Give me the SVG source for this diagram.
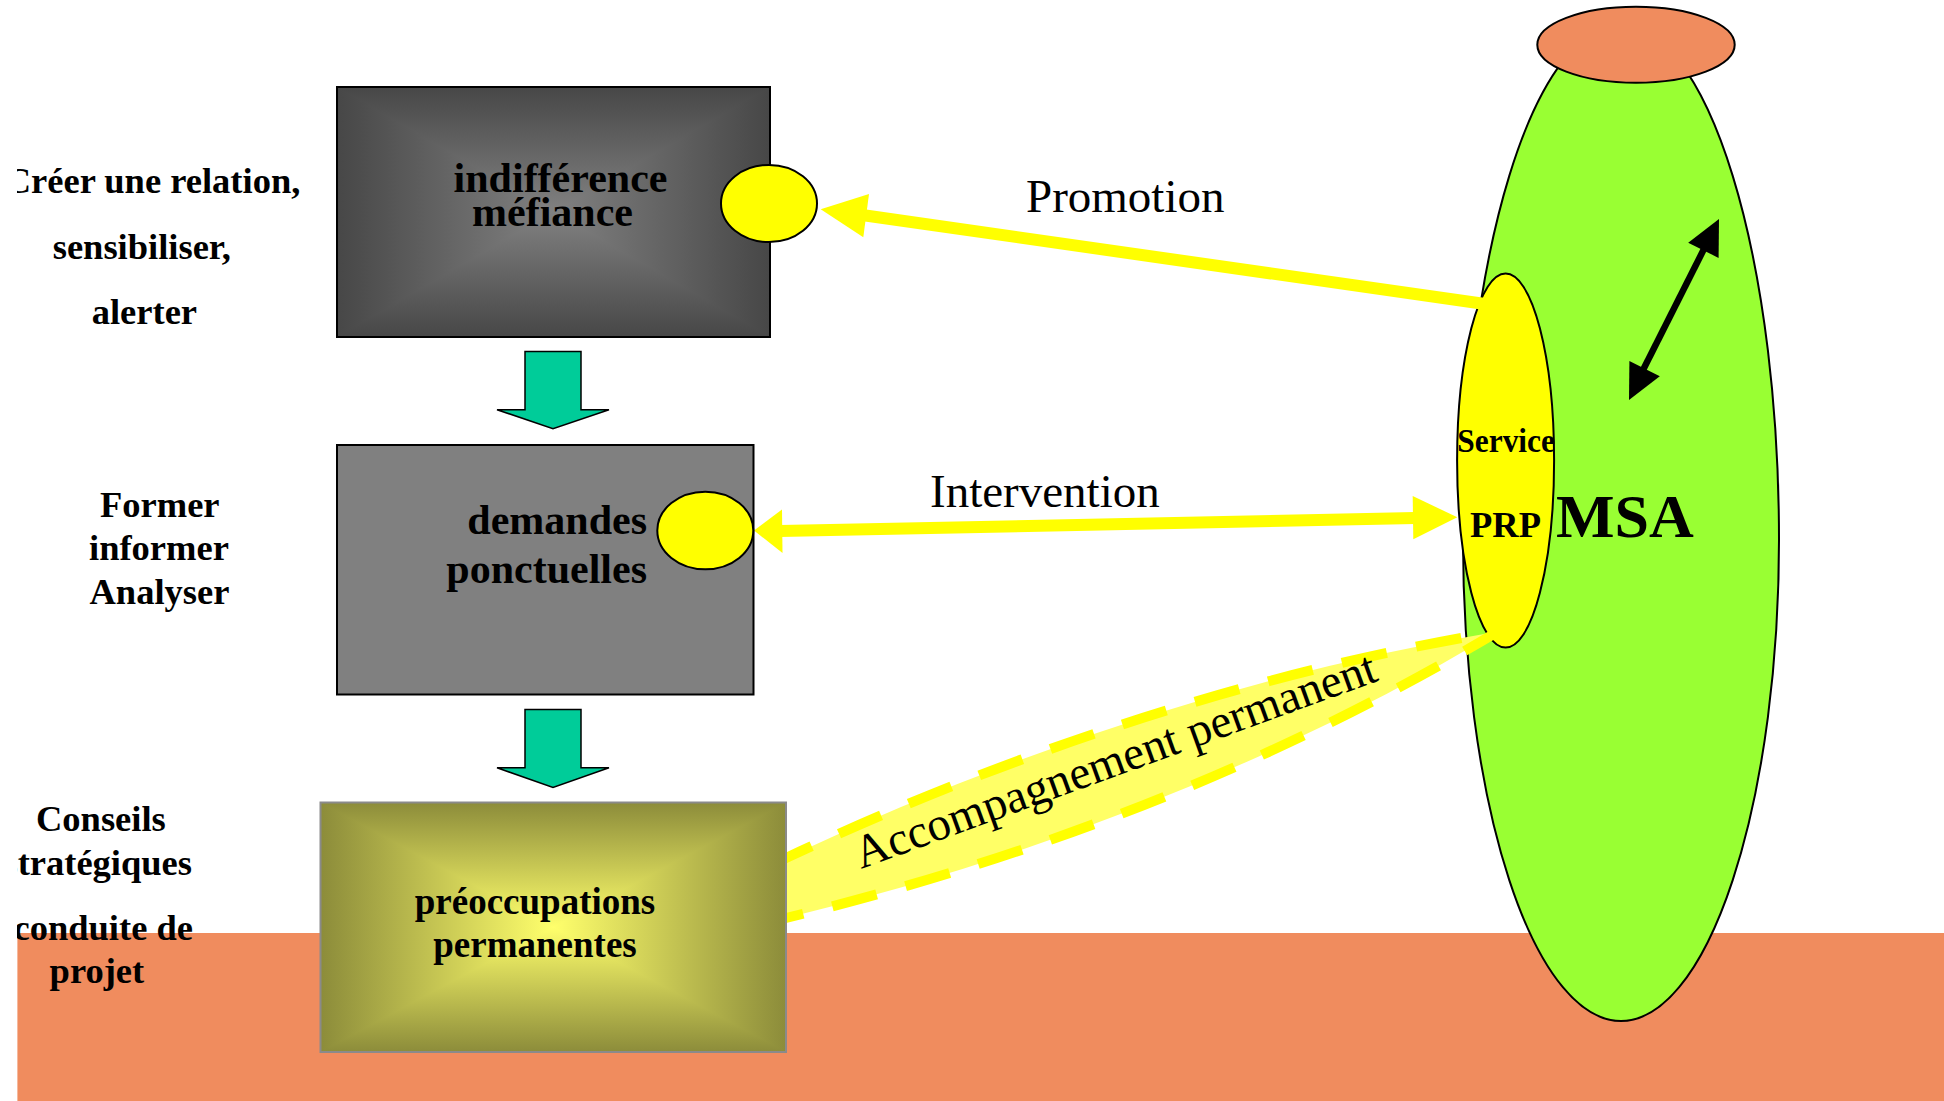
<svg xmlns="http://www.w3.org/2000/svg" width="1944" height="1101" viewBox="0 0 1944 1101">
<defs>
<style>
.lbl{font-family:"Liberation Serif","Times New Roman",serif;font-weight:bold;font-size:36.5px;fill:#000}
.box{font-family:"Liberation Serif","Times New Roman",serif;font-weight:bold;fill:#000}
.conn{font-family:"Liberation Serif","Times New Roman",serif;font-size:47px;fill:#000}
.down{fill:#00CC99;stroke:#000;stroke-width:1.5;stroke-linejoin:miter}
.dot{fill:#FFFF00;stroke:#000;stroke-width:2}
.yl{stroke:#FFFF00;stroke-width:12;fill:none}
.yh{fill:#FFFF00}
.tri{shape-rendering:crispEdges}
</style>
<clipPath id="page"><rect x="17" y="0" width="1927" height="1101"/></clipPath>
<linearGradient id="g1t" gradientUnits="userSpaceOnUse" x1="0" y1="87" x2="0" y2="212"><stop offset="0" stop-color="#474747"/><stop offset="1" stop-color="#818181"/></linearGradient>
<linearGradient id="g1b" gradientUnits="userSpaceOnUse" x1="0" y1="337" x2="0" y2="212"><stop offset="0" stop-color="#474747"/><stop offset="1" stop-color="#818181"/></linearGradient>
<linearGradient id="g1l" gradientUnits="userSpaceOnUse" x1="337" y1="0" x2="553.5" y2="0"><stop offset="0" stop-color="#474747"/><stop offset="1" stop-color="#818181"/></linearGradient>
<linearGradient id="g1r" gradientUnits="userSpaceOnUse" x1="770" y1="0" x2="553.5" y2="0"><stop offset="0" stop-color="#474747"/><stop offset="1" stop-color="#818181"/></linearGradient>
<linearGradient id="g3t" gradientUnits="userSpaceOnUse" x1="0" y1="802.5" x2="0" y2="927.25"><stop offset="0" stop-color="#8C8C3A"/><stop offset="1" stop-color="#FFFF6C"/></linearGradient>
<linearGradient id="g3b" gradientUnits="userSpaceOnUse" x1="0" y1="1052" x2="0" y2="927.25"><stop offset="0" stop-color="#8C8C3A"/><stop offset="1" stop-color="#FFFF6C"/></linearGradient>
<linearGradient id="g3l" gradientUnits="userSpaceOnUse" x1="320.5" y1="0" x2="553.25" y2="0"><stop offset="0" stop-color="#8C8C3A"/><stop offset="1" stop-color="#FFFF6C"/></linearGradient>
<linearGradient id="g3r" gradientUnits="userSpaceOnUse" x1="786" y1="0" x2="553.25" y2="0"><stop offset="0" stop-color="#8C8C3A"/><stop offset="1" stop-color="#FFFF6C"/></linearGradient>
</defs>
<rect x="0" y="0" width="1944" height="1101" fill="#FFFFFF"/>

<g id="ground">
<rect x="17.4" y="933" width="1926.6" height="168" fill="#F08C5E"/>
</g>

<g id="labels" clip-path="url(#page)">
<text class="lbl" x="4.7" y="193.3">Créer une relation,</text>
<text class="lbl" x="52.7" y="259">sensibiliser,</text>
<text class="lbl" x="91.7" y="324">alerter</text>
<text class="lbl" x="100" y="517">Former</text>
<text class="lbl" x="89" y="560">informer</text>
<text class="lbl" x="89.5" y="604">Analyser</text>
<text class="lbl" x="36" y="831">Conseils</text>
<text class="lbl" x="192" y="875" text-anchor="end">stratégiques</text>
<text class="lbl" x="193" y="940" text-anchor="end">conduite de</text>
<text class="lbl" x="49.6" y="982.7">projet</text>
</g>

<g id="msa">
<path d="M 1463,540 A 158 515 0 0 1 1779,540 A 158 481 0 0 1 1463,540 Z" fill="#99FF33" stroke="#000" stroke-width="2"/>
<ellipse cx="1636" cy="44.7" rx="98.7" ry="38" fill="#F08C5E" stroke="#000" stroke-width="2"/>
<text class="box" x="1556" y="537.3" font-size="62">MSA</text>
<g id="msa-arrow">
<line x1="1640" y1="376" x2="1708" y2="241" stroke="#000" stroke-width="6.5"/>
<polygon points="1719,219 1718.6,257.9 1688.2,242.7" fill="#000"/>
<polygon points="1629,400 1659.8,376.3 1629.4,361.1" fill="#000"/>
</g>
</g>

<g id="prp">
<ellipse cx="1505.6" cy="460.6" rx="48.5" ry="187" fill="#FFFF00" stroke="#000" stroke-width="2"/>
<text class="box" x="1457.3" y="452.3" font-size="34" textLength="97.7" lengthAdjust="spacingAndGlyphs">Service</text>
<text class="box" x="1470" y="537.3" font-size="36.5">PRP</text>
</g>

<g id="connectors">
<g id="accompagnement">
<path d="M 770,866 L 786,858 Q 1142,691.5 1498,631.5 Q 1178,822.5 786,918 L 770,922 Z" fill="#FFFF66" stroke="#FFFF00" stroke-width="10" stroke-dasharray="46 30" stroke-linejoin="round"/>
<text class="conn" font-size="48" transform="translate(861,869) rotate(-20)">Accompagnement permanent</text>
</g>
<g id="promotion">
<line class="yl" x1="862" y1="215" x2="1492" y2="305" stroke-width="11.5"/>
<polygon class="yh" points="820.7,209.3 869,194 863.3,237.3"/>
<text class="conn" x="1026" y="211.7">Promotion</text>
</g>
<g id="intervention">
<line class="yl" x1="780" y1="531" x2="1415" y2="518"/>
<polygon class="yh" points="754,530.5 782,509.5 782.5,553"/>
<polygon class="yh" points="1457.3,517.3 1412.7,496 1413.3,539.3"/>
<text class="conn" x="930" y="507">Intervention</text>
</g>
<polygon class="down" points="525,351.5 581,351.5 581,409.7 609,409.7 553,428.6 497,409.7 525,409.7"/>
<polygon class="down" points="525,709.5 581,709.5 581,767.8 609,767.8 553,787.4 497,767.8 525,767.8"/>
</g>

<g id="box-indifference">
<rect x="337" y="87" width="433" height="250" fill="#5E5E5E"/>
<polygon class="tri" points="337,87 770,87 553.5,212" fill="url(#g1t)"/>
<polygon class="tri" points="337,337 770,337 553.5,212" fill="url(#g1b)"/>
<polygon class="tri" points="337,87 337,337 553.5,212" fill="url(#g1l)"/>
<polygon class="tri" points="770,87 770,337 553.5,212" fill="url(#g1r)"/>
<rect x="337" y="87" width="433" height="250" fill="none" stroke="#000" stroke-width="2"/>
<text class="box" x="560.5" y="192" font-size="42" text-anchor="middle">indifférence</text>
<text class="box" x="552.5" y="226" font-size="42" text-anchor="middle">méfiance</text>
<ellipse class="dot" cx="769" cy="203.5" rx="48" ry="38.6"/>
</g>

<g id="box-demandes">
<rect x="337" y="445" width="416.5" height="249.5" fill="#808080" stroke="#000" stroke-width="2"/>
<text class="box" x="647" y="534" font-size="42" text-anchor="end">demandes</text>
<text class="box" x="647" y="583.4" font-size="42" text-anchor="end">ponctuelles</text>
<ellipse class="dot" cx="705.3" cy="530.5" rx="48" ry="38.8"/>
</g>

<g id="box-preoccupations">
<rect x="320.5" y="802.5" width="465.5" height="249.5" fill="#B9B94E"/>
<polygon class="tri" points="320.5,802.5 786,802.5 553.25,927.25" fill="url(#g3t)"/>
<polygon class="tri" points="320.5,1052 786,1052 553.25,927.25" fill="url(#g3b)"/>
<polygon class="tri" points="320.5,802.5 320.5,1052 553.25,927.25" fill="url(#g3l)"/>
<polygon class="tri" points="786,802.5 786,1052 553.25,927.25" fill="url(#g3r)"/>
<rect x="320.5" y="802.5" width="465.5" height="249.5" fill="none" stroke="#8A8A8A" stroke-width="2"/>
<text class="box" x="535" y="913.5" font-size="37" text-anchor="middle">préoccupations</text>
<text class="box" x="535" y="956.7" font-size="37" text-anchor="middle">permanentes</text>
</g>
</svg>
